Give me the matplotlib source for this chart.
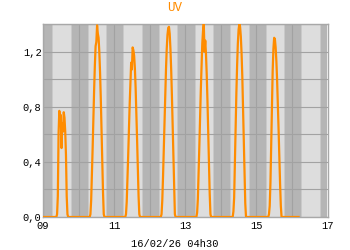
import numpy as np
import matplotlib
matplotlib.use("Agg")
import matplotlib.pyplot as plt
import matplotlib.dates as mdates
from matplotlib.ticker import FuncFormatter, MultipleLocator

# UV readings, half-hourly from 07h30 to 17h30 for each day
hours = [7.5, 8.0, 8.5, 9.0, 9.5, 10.0, 10.5, 11.0, 11.5, 12.0, 12.5,
         13.0, 13.5, 14.0, 14.5, 15.0, 15.5, 16.0, 16.5, 17.0, 17.5]
days = ["2026-02-09", "2026-02-10", "2026-02-11", "2026-02-12",
        "2026-02-13", "2026-02-14", "2026-02-15"]
uv_09 = [0, 0, 0, 0, 0.02, 0.15, 0.60, 0.77, 0.72, 0.74, 0.50, 0.68, 0.62, 0.76, 0.72, 0.62, 0.45, 0.15, 0.02, 0, 0]
uv_10 = [0, 0.02, 0.12, 0.30, 0.50, 0.72, 0.92, 1.10, 1.24, 1.27, 1.39, 1.33, 1.30, 1.20, 1.05, 0.86, 0.64, 0.42, 0.18, 0.02, 0]
uv_11 = [0, 0.02, 0.11, 0.27, 0.45, 0.64, 0.82, 0.98, 1.12, 1.07, 1.23, 1.21, 1.17, 1.08, 0.94, 0.76, 0.56, 0.36, 0.15, 0.02, 0]
uv_12 = [0, 0.02, 0.12, 0.29, 0.49, 0.70, 0.90, 1.07, 1.22, 1.32, 1.37, 1.38, 1.33, 1.22, 1.07, 0.88, 0.66, 0.43, 0.19, 0.02, 0]
uv_13 = [0, 0.03, 0.13, 0.31, 0.51, 0.72, 0.92, 1.10, 1.26, 1.35, 1.40, 1.20, 1.28, 1.18, 1.03, 0.84, 0.62, 0.40, 0.17, 0.02, 0]
uv_14 = [0, 0, 0.04, 0.14, 0.40, 0.66, 0.90, 1.10, 1.26, 1.36, 1.40, 1.38, 1.31, 1.19, 1.02, 0.80, 0.56, 0.32, 0.10, 0, 0]
uv_15 = [0, 0, 0.02, 0.08, 0.25, 0.52, 0.82, 1.06, 1.22, 1.30, 1.29, 1.23, 1.13, 0.99, 0.82, 0.63, 0.43, 0.24, 0.08, 0, 0]
uv_days = [uv_09, uv_10, uv_11, uv_12, uv_13, uv_14, uv_15]
last_reading = "2026-02-16T04:30"

# night / twilight periods (hours of the day)
dawn, sunrise, sunset, dusk = 6.3, 7.0, 18.7, 19.4

ORANGE = "#ff8c00"
FONT = "Liberation Mono"

times = []
values = []
for day, uv in zip(days, uv_days):
    d0 = np.datetime64(day + "T00:00")
    times.append(d0)
    values.append(0.0)
    for h, v in zip(hours, uv):
        times.append(d0 + np.timedelta64(int(round(h * 60)), "m"))
        values.append(v)
times.append(np.datetime64("2026-02-16T00:00"))
values.append(0.0)
times.append(np.datetime64(last_reading))
values.append(0.0)
times = np.array(times).astype("datetime64[m]").astype(object)

fig = plt.figure(figsize=(3.5, 2.5), dpi=100)
ax = fig.add_axes([43 / 350, 1 - 217 / 250, (327.5 - 43) / 350, (217 - 24) / 250])

start = np.datetime64("2026-02-09")
for i in range(8):
    d0 = start + np.timedelta64(i, "D")
    def t(h):
        return (d0 + np.timedelta64(int(round(h * 60)), "m")).astype(object)
    ax.axvspan(t(0), t(dawn), color="#b5b5b5", lw=0, zorder=0)
    ax.axvspan(t(dawn), t(sunrise), color="#c9c9c9", lw=0, zorder=0)
    ax.axvspan(t(sunrise), t(sunset), color="#dddddd", lw=0, zorder=0)
    ax.axvspan(t(sunset), t(dusk), color="#c9c9c9", lw=0, zorder=0)
    ax.axvspan(t(dusk), t(24), color="#b5b5b5", lw=0, zorder=0)

ax.plot(times, values, color=ORANGE, lw=1.6, zorder=3)

ax.set_xlim(np.datetime64("2026-02-09").astype(object), np.datetime64("2026-02-17").astype(object))
ax.set_ylim(0, 1.4)

ax.xaxis.set_major_locator(mdates.DayLocator(interval=2))
ax.xaxis.set_minor_locator(mdates.DayLocator())
ax.xaxis.set_major_formatter(mdates.DateFormatter("%d"))
ax.yaxis.set_major_locator(MultipleLocator(0.4))
ax.yaxis.set_minor_locator(MultipleLocator(0.2))
ax.yaxis.set_major_formatter(FuncFormatter(lambda v, p: f"{v:.1f}".replace(".", ",")))

ax.set_axisbelow(True)
ax.grid(which="both", color="#a2a2a2", lw=0.8)
ax.tick_params(which="both", length=0)
ax.tick_params(axis="x", pad=3)
ax.tick_params(axis="y", pad=1)
for lab in ax.get_xticklabels() + ax.get_yticklabels():
    lab.set_fontfamily(FONT)
    lab.set_fontsize(7.5)
for sp in ax.spines.values():
    sp.set_color("#a8a8a8")
    sp.set_linewidth(1)

fig.text(0.5, 1 - 8 / 250, "UV", color=ORANGE, family=FONT, fontsize=9,
         ha="center", va="center")
fig.text(0.5, 1 - 244 / 250, "16/02/26 04h30", family=FONT, fontsize=7.5,
         ha="center", va="center")

fig.savefig("out.png", dpi=100)
